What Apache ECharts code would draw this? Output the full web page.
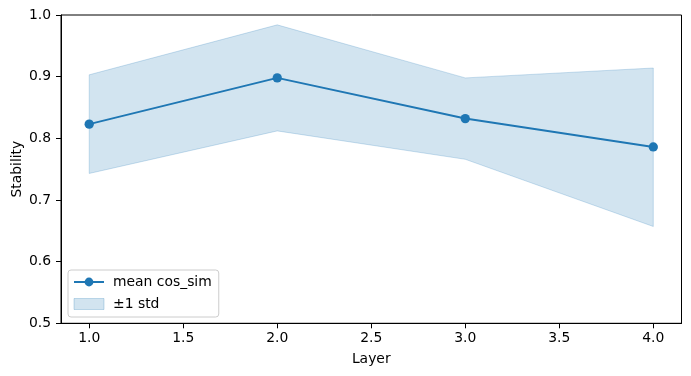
<!DOCTYPE html>
<html>
<head>
<meta charset="utf-8">
<script src="https://cdn.jsdelivr.net/npm/echarts@6/dist/echarts.min.js"></script>
<style>html,body{margin:0;padding:0;background:#fff}#c{width:691px;height:376px}</style>
</head>
<body>
<div id="c"></div>
<script>
const layers = [1, 2, 3, 4];
const meanCos = [0.823, 0.898, 0.832, 0.786];
const upperStd = [0.903, 0.984, 0.898, 0.914];
const lowerStd = [0.743, 0.812, 0.766, 0.657];
const xTicks = [1.0, 1.5, 2.0, 2.5, 3.0, 3.5, 4.0];
const yTicks = [0.5, 0.6, 0.7, 0.8, 0.9, 1.0];

const FONT = 'DejaVu Sans';
const BLUE = '#1f77b4';
const chart = echarts.init(document.getElementById('c'), null, {renderer: 'canvas'});

const bandData = layers.map((x, i) => [x, lowerStd[i], upperStd[i]]);

chart.setOption({
  animation: false,
  textStyle: {fontFamily: FONT},
  grid: {left: 61, right: 9.5, top: 15, bottom: 52.7, show: true, borderColor: '#000', borderWidth: 1, backgroundColor: 'transparent', containLabel: false, outerBoundsMode: 'none'},
  legend: {
    left: 68, top: 270, orient: 'vertical',
    backgroundColor: 'rgba(255,255,255,0.8)', borderColor: '#cccccc', borderWidth: 1, borderRadius: 3,
    padding: [5, 7, 6, 5], itemGap: 8, itemWidth: 30, itemHeight: 11,
    textStyle: {fontFamily: FONT, fontSize: 13.9, color: '#000', padding: [0, 0, 0, 4]},
    data: [
      {name: 'mean cos_sim'},
      {name: '±1 std', icon: 'rect', itemStyle: {color: 'rgba(31,119,180,0.2)', borderColor: 'rgba(31,119,180,0.25)', borderWidth: 1}}
    ]
  },
  xAxis: {
    type: 'value', min: 0.85, max: 4.15,
    name: 'Layer', nameLocation: 'middle', nameGap: 29, nameMoveOverlap: false,
    nameTextStyle: {fontFamily: FONT, fontSize: 13.9, color: '#000'},
    axisLine: {show: true, lineStyle: {color: '#000', width: 1}},
    axisTick: {show: true, customValues: xTicks, length: 5, lineStyle: {color: '#000'}},
    axisLabel: {customValues: xTicks, formatter: v => v.toFixed(1), fontFamily: FONT, fontSize: 13.9, color: '#000', margin: 8},
    splitLine: {show: false}
  },
  yAxis: {
    type: 'value', min: 0.5, max: 1.0, interval: 0.1,
    name: 'Stability', nameLocation: 'middle', nameGap: 37, nameMoveOverlap: false,
    nameTextStyle: {fontFamily: FONT, fontSize: 13.9, color: '#000'},
    axisLine: {show: true, lineStyle: {color: '#000', width: 1}},
    axisTick: {show: true, length: 5, lineStyle: {color: '#000'}},
    axisLabel: {formatter: v => v.toFixed(1), fontFamily: FONT, fontSize: 13.9, color: '#000', margin: 10},
    splitLine: {show: false}
  },
  series: [
    {
      name: '±1 std', type: 'custom', z: 1,
      itemStyle: {color: 'rgba(31,119,180,0.2)'},
      data: bandData,
      renderItem: function (params, api) {
        if (params.dataIndex !== 0) return null;
        const top = bandData.map(d => api.coord([d[0], d[2]]));
        const bot = bandData.map(d => api.coord([d[0], d[1]])).reverse();
        return {
          type: 'polygon',
          shape: {points: top.concat(bot)},
          style: {fill: 'rgba(31,119,180,0.2)', stroke: 'rgba(31,119,180,0.22)', lineWidth: 1}
        };
      }
    },
    {
      name: 'mean cos_sim', type: 'line', z: 3,
      data: layers.map((x, i) => [x, meanCos[i]]),
      symbol: 'circle', symbolSize: 9.3, showSymbol: true,
      lineStyle: {color: BLUE, width: 2},
      itemStyle: {color: BLUE}
    }
  ]
});
</script>
</body>
</html>
